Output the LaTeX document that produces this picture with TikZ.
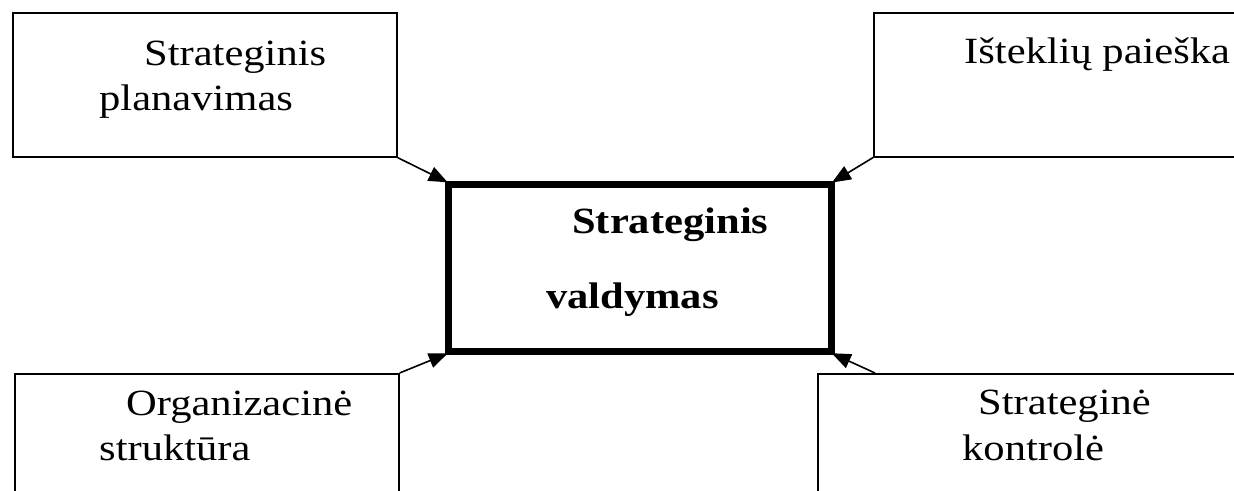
\documentclass[tikz,border=0pt]{standalone}
\usepackage{fontspec}
\setmainfont{Liberation Serif}[FakeStretch=1.15]
\usetikzlibrary{arrows.meta}
\tikzset{
  box/.style={draw=black, line width=1.6pt, rectangle, inner sep=0pt, anchor=north west},
  mainbox/.style={draw=black, line width=6.5pt, rectangle, inner sep=0pt, anchor=north west},
  lbl/.style={inner sep=0pt, anchor=base west, font=\fontsize{37}{40}\selectfont},
  blbl/.style={lbl, font=\fontsize{37}{40}\selectfont\bfseries},
  conn/.style={line width=1.6pt, -{Triangle[length=19pt,width=15pt]}, shorten >=-3pt}
}
\begin{document}
\begin{tikzpicture}[x=1pt,y=-1pt]
\useasboundingbox (0,0) rectangle (1234,490);
\clip (0,0) rectangle (1234,490);
\fill[white] (0,0) rectangle (1234,490);
% boxes
\node[box, minimum width=384pt, minimum height=144pt] (tl) at (12,12) {};
\node[box, minimum width=400pt, minimum height=144pt] (tr) at (873,12) {};
\node[box, minimum width=384pt, minimum height=200pt] (bl) at (14,373) {};
\node[box, minimum width=450pt, minimum height=200pt] (br) at (817,373) {};
\node[mainbox, minimum width=383pt, minimum height=167pt] (c) at (445,181) {};
% labels
\node[lbl] (tl1) at (144,65) {Strateginis};
\node[lbl] (tl2) at (99,110) {planavimas};
\node[lbl] (tr1) at (964,63) {Išteklių paieška};
\node[blbl] (c1) at (572,233) {Strateginis};
\node[blbl] (c2) at (546,308) {valdymas};
\node[lbl] (bl1) at (126,415) {Organizacinė};
\node[lbl] (bl2) at (99,460) {struktūra};
\node[lbl] (br1) at (978,414) {Strateginė};
\node[lbl] (br2) at (962,460) {kontrolė};
% connectors
\coordinate (brs) at (875,373);
\draw[conn] (tl.south east) -- (c.north west);
\draw[conn] (tr.south west) -- (c.north east);
\draw[conn] (bl.north east) -- (c.south west);
\draw[conn] (brs) -- (c.south east);
\end{tikzpicture}
\end{document}
